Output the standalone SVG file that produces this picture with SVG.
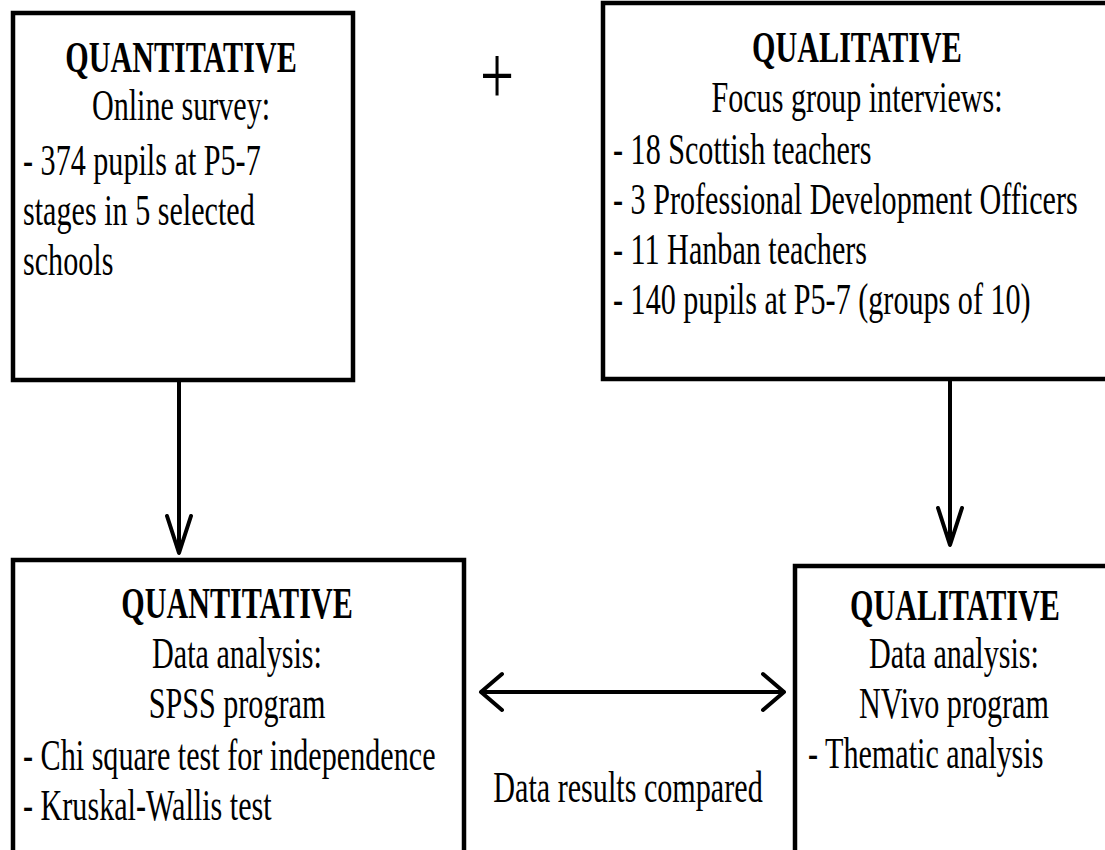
<svg xmlns="http://www.w3.org/2000/svg" width="1105" height="850" viewBox="0 0 1105 850">
<style>
text{font-family:"Liberation Serif","Times New Roman",serif;font-size:44px;fill:#000}
.b{font-weight:bold}
.box{fill:#fff;stroke:#000;stroke-width:4.5}
.ln{fill:none;stroke:#000;stroke-width:4;stroke-linecap:round;stroke-linejoin:round}
</style>
<rect width="1105" height="850" fill="#fff"/>
<g id="quant-collect">
<rect class="box" x="13" y="13" width="340" height="367"/>
<text class="b" text-anchor="middle" transform="translate(181,72) scale(0.685,1)">QUANTITATIVE</text>
<text text-anchor="middle" transform="translate(181,120) scale(0.685,1)">Online survey:</text>
<text transform="translate(23,175) scale(0.685,1)">- 374 pupils at P5-7</text>
<text transform="translate(23,225) scale(0.685,1)">stages in 5 selected</text>
<text transform="translate(23,275) scale(0.685,1)">schools</text>
</g>
<g id="plus">
<text text-anchor="middle" style="font-size:84px" transform="translate(497,104) scale(0.72,1)">+</text>
</g>
<g id="qual-collect">
<rect class="box" x="603" y="3" width="506" height="376"/>
<text class="b" text-anchor="middle" transform="translate(857,62) scale(0.685,1)">QUALITATIVE</text>
<text text-anchor="middle" transform="translate(857,112) scale(0.685,1)">Focus group interviews:</text>
<text transform="translate(613,164) scale(0.685,1)">- 18 Scottish teachers</text>
<text transform="translate(613,214) scale(0.685,1)">- 3 Professional Development Officers</text>
<text transform="translate(613,264) scale(0.685,1)">- 11 Hanban teachers</text>
<text transform="translate(613,314) scale(0.685,1)">- 140 pupils at P5-7 (groups of 10)</text>
</g>
<g id="quant-analysis">
<rect class="box" x="13" y="560" width="451" height="300"/>
<text class="b" text-anchor="middle" transform="translate(237,618) scale(0.685,1)">QUANTITATIVE</text>
<text text-anchor="middle" transform="translate(237,668) scale(0.685,1)">Data analysis:</text>
<text text-anchor="middle" transform="translate(237,718) scale(0.685,1)">SPSS program</text>
<text transform="translate(23,770) scale(0.685,1)">- Chi square test for independence</text>
<text transform="translate(23,820) scale(0.685,1)">- Kruskal-Wallis test</text>
</g>
<g id="qual-analysis">
<rect class="box" x="795" y="566" width="320" height="300"/>
<text class="b" text-anchor="middle" transform="translate(955,620) scale(0.685,1)">QUALITATIVE</text>
<text text-anchor="middle" transform="translate(954,668) scale(0.685,1)">Data analysis:</text>
<text text-anchor="middle" transform="translate(954,718) scale(0.685,1)">NVivo program</text>
<text transform="translate(808,768) scale(0.685,1)">- Thematic analysis</text>
</g>
<g id="connectors">
<path class="ln" d="M179,382 V552 M167,516 L179,553 L191,516"/>
<path class="ln" d="M950,381 V544 M938,508 L950,545 L962,508"/>
<path class="ln" d="M481,692 H784 M502,674 L481,692 L502,710 M763,674 L784,692 L763,710"/>
<text text-anchor="middle" transform="translate(628,802) scale(0.685,1)">Data results compared</text>
</g>
</svg>
